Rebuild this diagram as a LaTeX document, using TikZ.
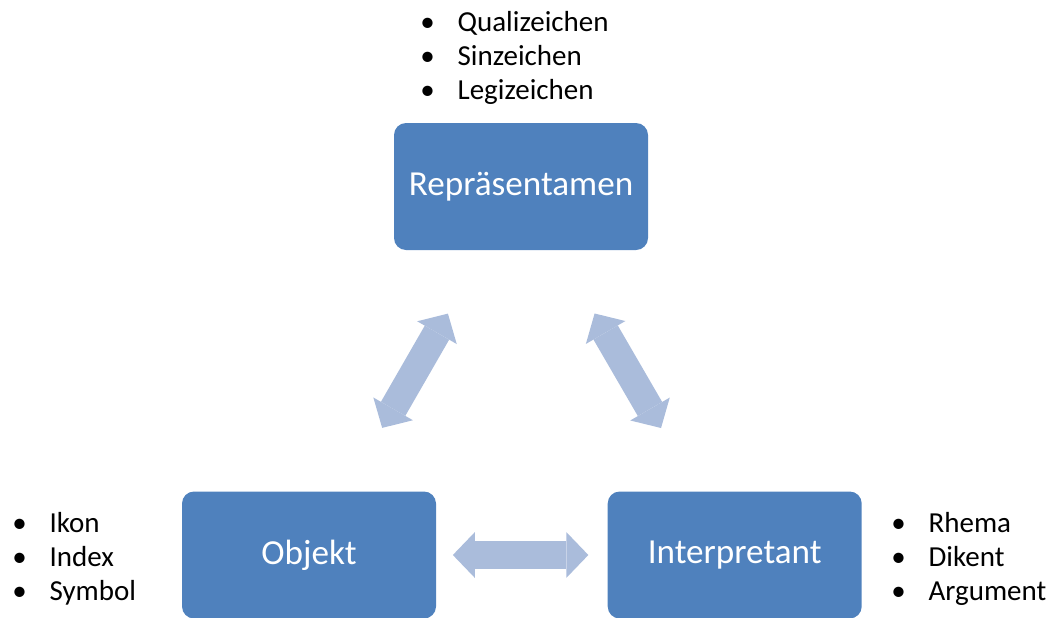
\documentclass[tikz,border=0pt]{standalone}
\usepackage{fontspec}
\setmainfont{Carlito}
\usepackage{tikz}
\usetikzlibrary{positioning,arrows.meta}

\definecolor{boxblue}{RGB}{79,129,189}
\definecolor{arrowblue}{RGB}{170,188,219}

\tikzset{
  signbox/.style={fill=boxblue, rounded corners=0.24cm, minimum width=5.08cm,
    minimum height=2.54cm, text=white, font=\fontsize{20}{24}\selectfont},
  biarrow/.style={draw=arrowblue, line width=16pt, shorten <=1.46cm, shorten >=1.46cm,
    {Triangle[width=26pt,length=12.5pt,line width=0pt 0]}-{Triangle[width=26pt,length=12.5pt,line width=0pt 0]}},
  itemlist/.style={inner sep=0pt, align=left, anchor=base west,
    font=\fontsize{16.5}{19.3}\selectfont}
}
\newcommand{\itm}[1]{\textbullet\hspace{13pt}#1}

\begin{document}
\begin{tikzpicture}

  \useasboundingbox (0,0) rectangle (21.04,12.34);

  % Define nodes
  \node[signbox] (rep) at (10.42,8.61) {Repräsentamen};
  \node[signbox] (obj) at (6.18,1.24) {Objekt};
  \node[signbox, right=3.42cm of obj] (int) {Interpretant};

  % lists (anchored at the baseline of the last line)
  \node[itemlist] (replist) at (8.40,10.36) {\itm{Qualizeichen}\\\itm{Sinzeichen}\\\itm{Legizeichen}};
  \node[itemlist] (objlist) at (0.24,0.34) {\itm{Ikon}\\\itm{Index}\\\itm{Symbol}};
  \node[itemlist] (intlist) at (17.82,0.34) {\itm{Rhema}\\\itm{Dikent}\\\itm{Argument}};

  % Arrows
  \draw[biarrow] (obj) -- (rep);
  \draw[biarrow] (int) -- (rep);
  \draw[biarrow, shorten <=0.33cm, shorten >=0.38cm] (obj) -- (int);

\end{tikzpicture}
\end{document}
